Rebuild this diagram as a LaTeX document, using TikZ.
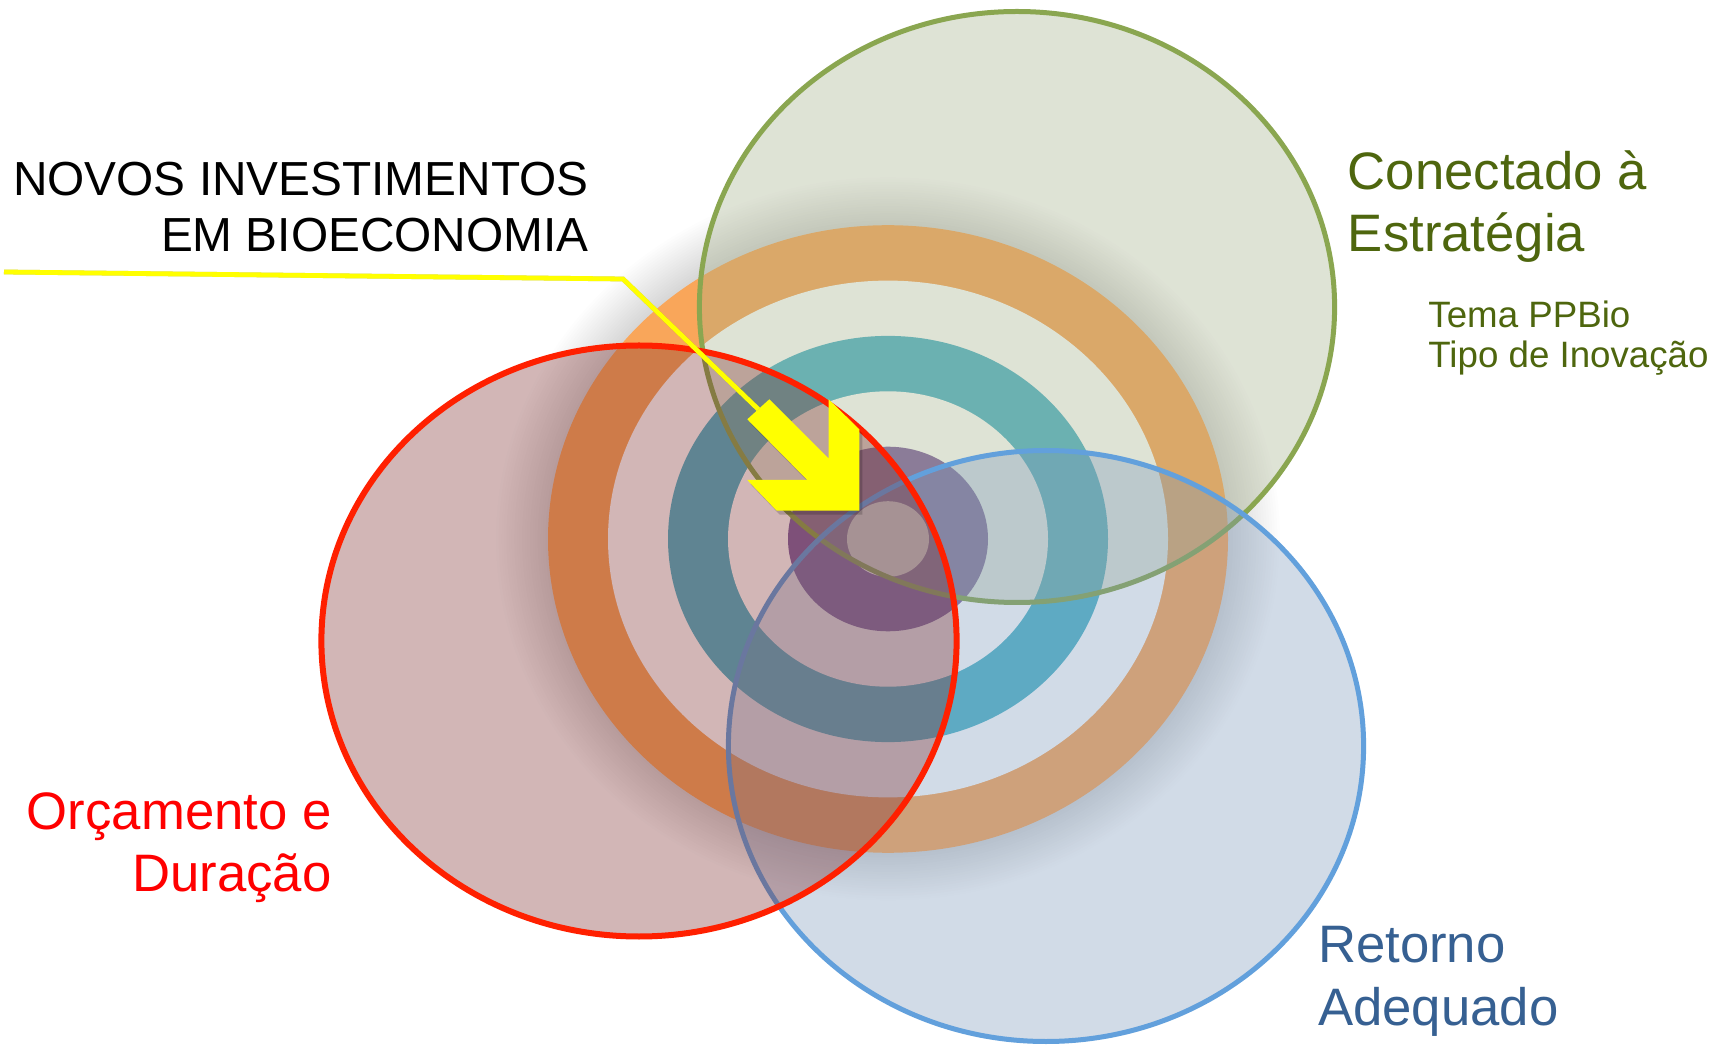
\documentclass[tikz,border=0pt]{standalone}
\usepackage{fontspec}
\setmainfont{Liberation Sans}
\definecolor{orangeR}{RGB}{249,166,90}
\definecolor{tealR}{RGB}{80,180,200}
\definecolor{purpR}{RGB}{128,100,162}
\definecolor{greenF}{RGB}{161,173,134}
\definecolor{blueF}{RGB}{123,152,187}
\definecolor{redF}{RGB}{124,42,42}
\definecolor{greenL}{RGB}{138,166,80}
\definecolor{blueL}{RGB}{98,160,220}
\definecolor{redL}{RGB}{255,32,0}
\definecolor{greenT}{RGB}{78,102,14}
\definecolor{blueT}{RGB}{54,96,146}
\definecolor{yellowA}{RGB}{255,255,0}
\tikzset{
  biglbl/.style={inner sep=0pt, font=\fontsize{26.35pt}{31pt}\selectfont},
  smalllbl/.style={inner sep=0pt, font=\fontsize{18.35pt}{20pt}\selectfont},
  novlbl/.style={inner sep=0pt, font=\fontsize{23.9pt}{28pt}\selectfont, text=black},
  bubble/.style={fill opacity=0.34, line width=2.5pt},
}
\begin{document}
\begin{tikzpicture}[x=0.5pt,y=-0.5pt]
\useasboundingbox (0,0) rectangle (1729,1052);
\fill[white] (0,0) rectangle (1729,1052);
% glow of the target
\foreach \i in {1,...,20}{
  \fill[black,opacity=0.009] (888,539) ellipse [x radius={340+2.6*\i}, y radius={(340+2.6*\i)*0.923}];
}
% target rings
\fill[orangeR] (888,539) ellipse [x radius=340, y radius=313.8];
\fill[white]   (888,539) ellipse [x radius=280, y radius=258.4];
\fill[tealR]   (888,539) ellipse [x radius=220, y radius=203.1];
\fill[white]   (888,539) ellipse [x radius=160, y radius=147.7];
\fill[purpR]   (888,539) ellipse [x radius=100, y radius=92.3];
\fill[white]   (888,539) ellipse [x radius=41,  y radius=37.8];
% three bubbles
\filldraw[bubble, fill=greenF, draw=greenL] (1017,307) ellipse [x radius=317.6, y radius=295.5];
\filldraw[bubble, fill=blueF, draw=blueL] (1046,746) ellipse [x radius=317.6, y radius=295.5];
\filldraw[bubble, fill=redF, draw=redL, line width=3pt] (639,641) ellipse [x radius=317.6, y radius=295.5];
% pointer line and arrow
\coordinate (ls) at (4,272);
\coordinate (lc) at (623,279);
\coordinate (at) at (758.3,409.3);
\draw[black, opacity=0.22, line width=2.4pt, shift={(2,5)}] (ls) -- (lc) -- (at);
\draw[yellowA, line width=2.4pt] (ls) -- (lc) -- (at);
\fill[black, opacity=0.18, shift={(3,4)}] (747.3,419.3) -- (769.3,399.3) -- (828.7,458.7) -- (828.7,399.3) -- (859.3,429.3) -- (859.3,510.7) -- (776.7,510.7) -- (747.3,480) -- (807.3,480) -- cycle;
\fill[yellowA] (747.3,419.3) -- (769.3,399.3) -- (828.7,458.7) -- (828.7,399.3) -- (859.3,429.3) -- (859.3,510.7) -- (776.7,510.7) -- (747.3,480) -- (807.3,480) -- cycle;
% labels
\node[novlbl, anchor=base east] (n1) at (589,196) {NOVOS INVESTIMENTOS};
\node[novlbl, anchor=base east] (n2) at (589,251.5) {EM BIOECONOMIA};
\node[biglbl, text=greenT, anchor=base west] (g1) at (1347.5,189.7) {Conectado à};
\node[biglbl, text=greenT, anchor=base west] (g2) at (1347.5,251.4) {Estratégia};
\node[smalllbl, text=greenT, anchor=base west] (g3) at (1428,327.5) {Tema PPBio};
\node[smalllbl, text=greenT, anchor=base west] (g4) at (1428,367.2) {Tipo de Inovação};
\node[biglbl, text=red, anchor=base east] (r1) at (332,829) {Orçamento e};
\node[biglbl, text=red, anchor=base east] (r2) at (332,891) {Duração};
\node[biglbl, text=blueT, anchor=base west] (b1) at (1317.7,962.7) {Retorno};
\node[biglbl, text=blueT, anchor=base west] (b2) at (1317.7,1025.5) {Adequado};
\end{tikzpicture}
\end{document}
